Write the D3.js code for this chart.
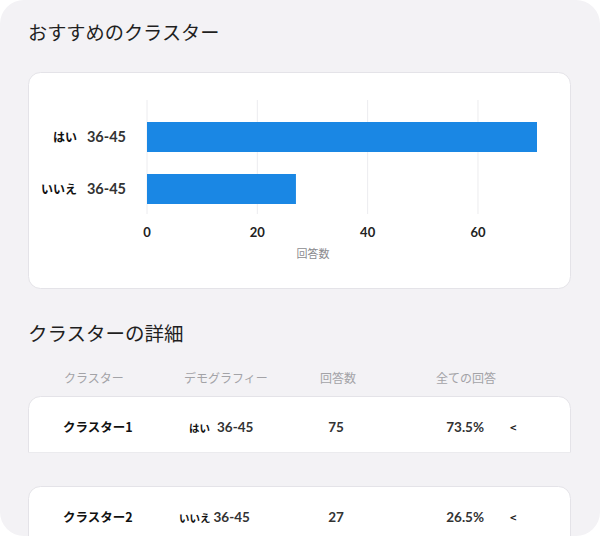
<!DOCTYPE html>
<html><head><meta charset="utf-8">
<script src="https://cdn.jsdelivr.net/npm/d3@7"></script>
<style>
html,body{margin:0;padding:0;background:#fff;}
svg{display:block;font-family:"Noto Sans CJK JP","Noto Sans",sans-serif;}
</style></head>
<body><svg id="c" width="600" height="536"></svg>
<script>
const categoryPrefix = ["はい", "いいえ"];
const categoryAge = ["36-45", "36-45"];
const counts = [75, 27];
const xTicks = [0, 20, 40, 60];
const clusterNames = ["クラスター1", "クラスター2"];
const percents = ["73.5%", "26.5%"];
const headers = ["クラスター", "デモグラフィー", "回答数", "全ての回答"];

const svg = d3.select("#c");
const defs = svg.append("defs");

// page background
svg.append("rect").attr("x",0).attr("y",0).attr("width",600).attr("height",536)
  .attr("rx",24).attr("fill","#f3f2f5");

svg.append("text").attr("x",28).attr("y",40).attr("font-size",19.2)
  .attr("fill","#1f1f1f").text("おすすめのクラスター");

// chart card
svg.append("rect").attr("x",28.5).attr("y",72.5).attr("width",542).attr("height",216)
  .attr("rx",12).attr("fill","#fff").attr("stroke","#e4e3e8");

const x = d3.scaleLinear().domain([0, 70.7]).range([147, 537]).clamp(true);
const rows = d3.range(counts.length);
const y = d3.scaleBand().domain(rows).range([111.6, 214.4]).paddingInner(0.423).paddingOuter(0.2);

const g = svg.append("g");
g.selectAll("line.grid").data(xTicks).join("line")
  .attr("x1",d=>x(d)).attr("x2",d=>x(d)).attr("y1",100).attr("y2",214)
  .attr("stroke","#ececef").attr("stroke-width",1);

g.selectAll("rect.bar").data(rows).join("rect")
  .attr("x",x(0)).attr("y",i=>y(i)).attr("width",i=>x(counts[i])-x(0))
  .attr("height",y.bandwidth()).attr("fill","#1a87e4");

g.selectAll("text.tick").data(xTicks).join("text")
  .attr("x",d=>x(d)).attr("y",237).attr("text-anchor","middle")
  .attr("font-size",13).attr("font-weight","bold").attr("fill","#222")
  .attr("font-family","Lato, sans-serif").text(d=>d);

const lab = g.selectAll("text.ylab").data(rows).join("text")
  .attr("x",126).attr("y",i=>y(i)+y.bandwidth()/2+5).attr("text-anchor","end");
lab.append("tspan").attr("font-size",12).attr("font-weight","bold").attr("fill","#111")
  .text(i=>categoryPrefix[i]);
lab.append("tspan").attr("dx",10).attr("font-size",14.5).attr("font-weight","bold").attr("fill","#333")
  .attr("font-family","Lato, sans-serif").text(i=>categoryAge[i]);

svg.append("text").attr("x",313).attr("y",258).attr("text-anchor","middle")
  .attr("font-size",11).attr("fill","#8b8b8f").text("回答数");

// details
svg.append("text").attr("x",28).attr("y",341).attr("font-size",19.5)
  .attr("fill","#1f1f1f").text("クラスターの詳細");

const hx = [64, 184, 320, 436];
svg.selectAll("text.hdr").data(headers).join("text")
  .attr("x",(d,i)=>hx[i]).attr("y",383).attr("font-size",12).attr("fill","#a3a3a7").text(d=>d);

const cardY = [396, 486];
const cardBottom = [452, 560];
rows.forEach(i=>{
  defs.append("clipPath").attr("id","cl"+i).append("rect")
    .attr("x",0).attr("y",cardY[i]-2).attr("width",600).attr("height",cardBottom[i]-cardY[i]+2);
  svg.append("rect").attr("clip-path",`url(#cl${i})`)
    .attr("x",28.5).attr("y",cardY[i]+0.5).attr("width",542).attr("height",120)
    .attr("rx",12).attr("fill","#fff").attr("stroke","#e4e3e8");
  const cy = cardY[i] + 36;
  svg.append("text").attr("x",63).attr("y",cy).attr("font-size",12.5).attr("font-weight","bold")
    .attr("fill","#111").text(clusterNames[i]);
  const dem = svg.append("text").attr("x", i===0 ? 189 : 179).attr("y",cy);
  dem.append("tspan").attr("font-size",10.5).attr("font-weight","bold").attr("fill","#111").text(categoryPrefix[i]);
  dem.append("tspan").attr("dx", i===0 ? 7 : 3).attr("font-size",13.5).attr("font-weight","bold").attr("fill","#333")
    .attr("font-family","Lato, sans-serif").text(categoryAge[i]);
  svg.append("text").attr("x",336).attr("y",cy).attr("text-anchor","middle").attr("font-size",13.5)
    .attr("font-weight","bold").attr("fill","#333").attr("font-family","Lato, sans-serif").text(counts[i]);
  svg.append("text").attr("x",484).attr("y",cy).attr("text-anchor","end").attr("font-size",13.5)
    .attr("font-weight","bold").attr("fill","#333").attr("font-family","Lato, sans-serif").text(percents[i]);
  svg.append("text").attr("x",510).attr("y",cy).attr("font-size",11).attr("font-weight","bold")
    .attr("fill","#222").text("<");
});
svg.append("line").attr("x1",28).attr("x2",571).attr("y1",452.5).attr("y2",452.5).attr("stroke","#ebebee");
</script></body></html>
